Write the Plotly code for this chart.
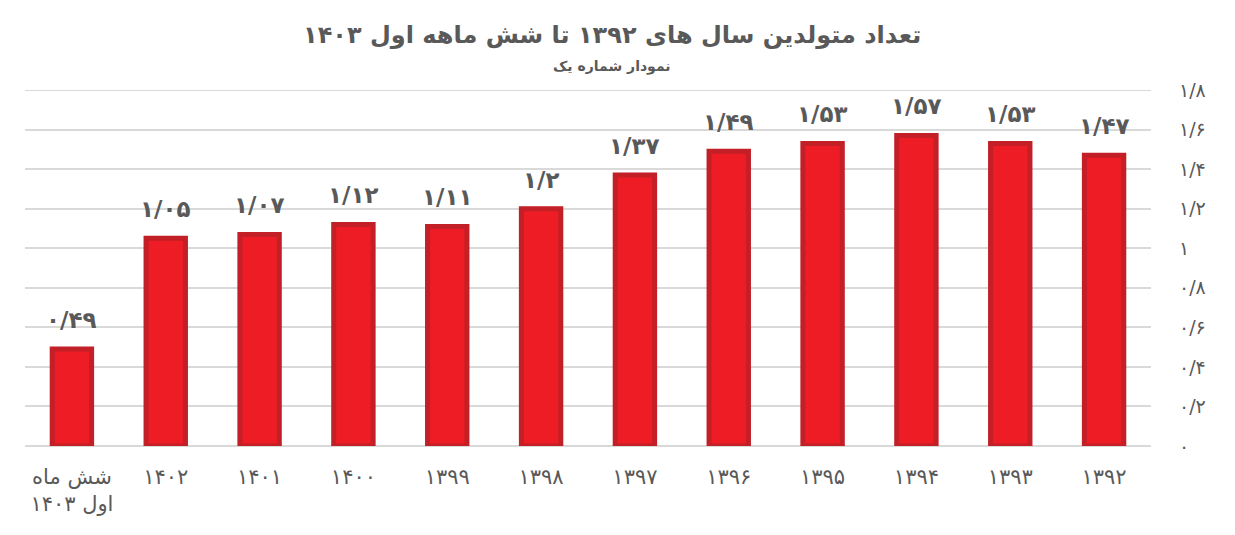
import plotly.graph_objects as go

# Data (chronological order; the x axis is drawn reversed like the reference)
categories = ["۱۳۹۲", "۱۳۹۳", "۱۳۹۴", "۱۳۹۵", "۱۳۹۶", "۱۳۹۷", "۱۳۹۸", "۱۳۹۹",
              "۱۴۰۰", "۱۴۰۱", "۱۴۰۲", "شش ماه<br>اول ۱۴۰۳"]
values = [1.47, 1.53, 1.57, 1.53, 1.49, 1.37, 1.20, 1.11, 1.12, 1.07, 1.05, 0.49]
y_tick_vals = [0, 0.2, 0.4, 0.6, 0.8, 1.0, 1.2, 1.4, 1.6, 1.8]
y_tick_text = ["۰", "۰/۲", "۰/۴", "۰/۶", "۰/۸", "۱", "۱/۲", "۱/۴", "۱/۶", "۱/۸"]

title_text = "تعداد متولدین سال های ۱۳۹۲ تا شش ماهه اول ۱۴۰۳"
subtitle_text = "نمودار شماره یک"

PERSIAN = str.maketrans("0123456789.", "۰۱۲۳۴۵۶۷۸۹/")


def fa(v):
    s = ("%.2f" % v).rstrip("0").rstrip(".")
    return s.translate(PERSIAN)


labels = [fa(v) for v in values]

FONT = "DejaVu Sans"
GREY = "#595959"
GRID = "#D9D9D9"

fig = go.Figure(
    go.Bar(
        x=categories,
        y=values,
        marker=dict(color="#EE1D25", line=dict(color="#C21F27", width=5)),
        width=0.42,
        hoverinfo="x+y",
    )
)

# value labels above each bar
label_annotations = [
    dict(x=c, y=v, text=t, xref="x", yref="y", showarrow=False,
         xanchor="center", yanchor="middle", yshift=29,
         font=dict(family=FONT, size=23, color=GREY, weight="bold"))
    for c, v, t in zip(categories, values, labels)
]

fig.update_layout(
    width=1219,
    height=519,
    margin=dict(l=17, r=76, t=82, b=81),
    paper_bgcolor="white",
    plot_bgcolor="white",
    showlegend=False,
    font=dict(family=FONT, color=GREY),
    xaxis=dict(
        type="category",
        autorange="reversed",
        showgrid=False,
        showline=False,
        ticks="",
        ticklabelstandoff=16,
        tickfont=dict(family=FONT, size=21, color=GREY),
    ),
    yaxis=dict(
        side="right",
        range=[0, 1.8],
        tickvals=y_tick_vals,
        ticktext=y_tick_text,
        showgrid=True,
        gridcolor=GRID,
        gridwidth=2,
        zeroline=True,
        zerolinecolor=GRID,
        zerolinewidth=2,
        showline=False,
        ticks="",
        ticklabelstandoff=27,
        tickfont=dict(family=FONT, size=19, color=GREY),
    ),
    shapes=[
        dict(type="line", xref="paper", yref="y", x0=0, x1=1,
             y0=y_tick_vals[-1], y1=y_tick_vals[-1],
             line=dict(color=GRID, width=2), layer="below"),
    ],
    annotations=label_annotations + [
        dict(text=title_text, xref="paper", yref="paper", x=0.521, y=1.0,
             yshift=55, xanchor="center", yanchor="middle", showarrow=False,
             font=dict(family=FONT, size=24, color=GREY, weight="bold")),
        dict(text=subtitle_text, xref="paper", yref="paper", x=0.521, y=1.0,
             yshift=24, xanchor="center", yanchor="middle", showarrow=False,
             font=dict(family=FONT, size=14, color=GREY, weight="bold")),
    ],
)

fig.write_html("out.html")
